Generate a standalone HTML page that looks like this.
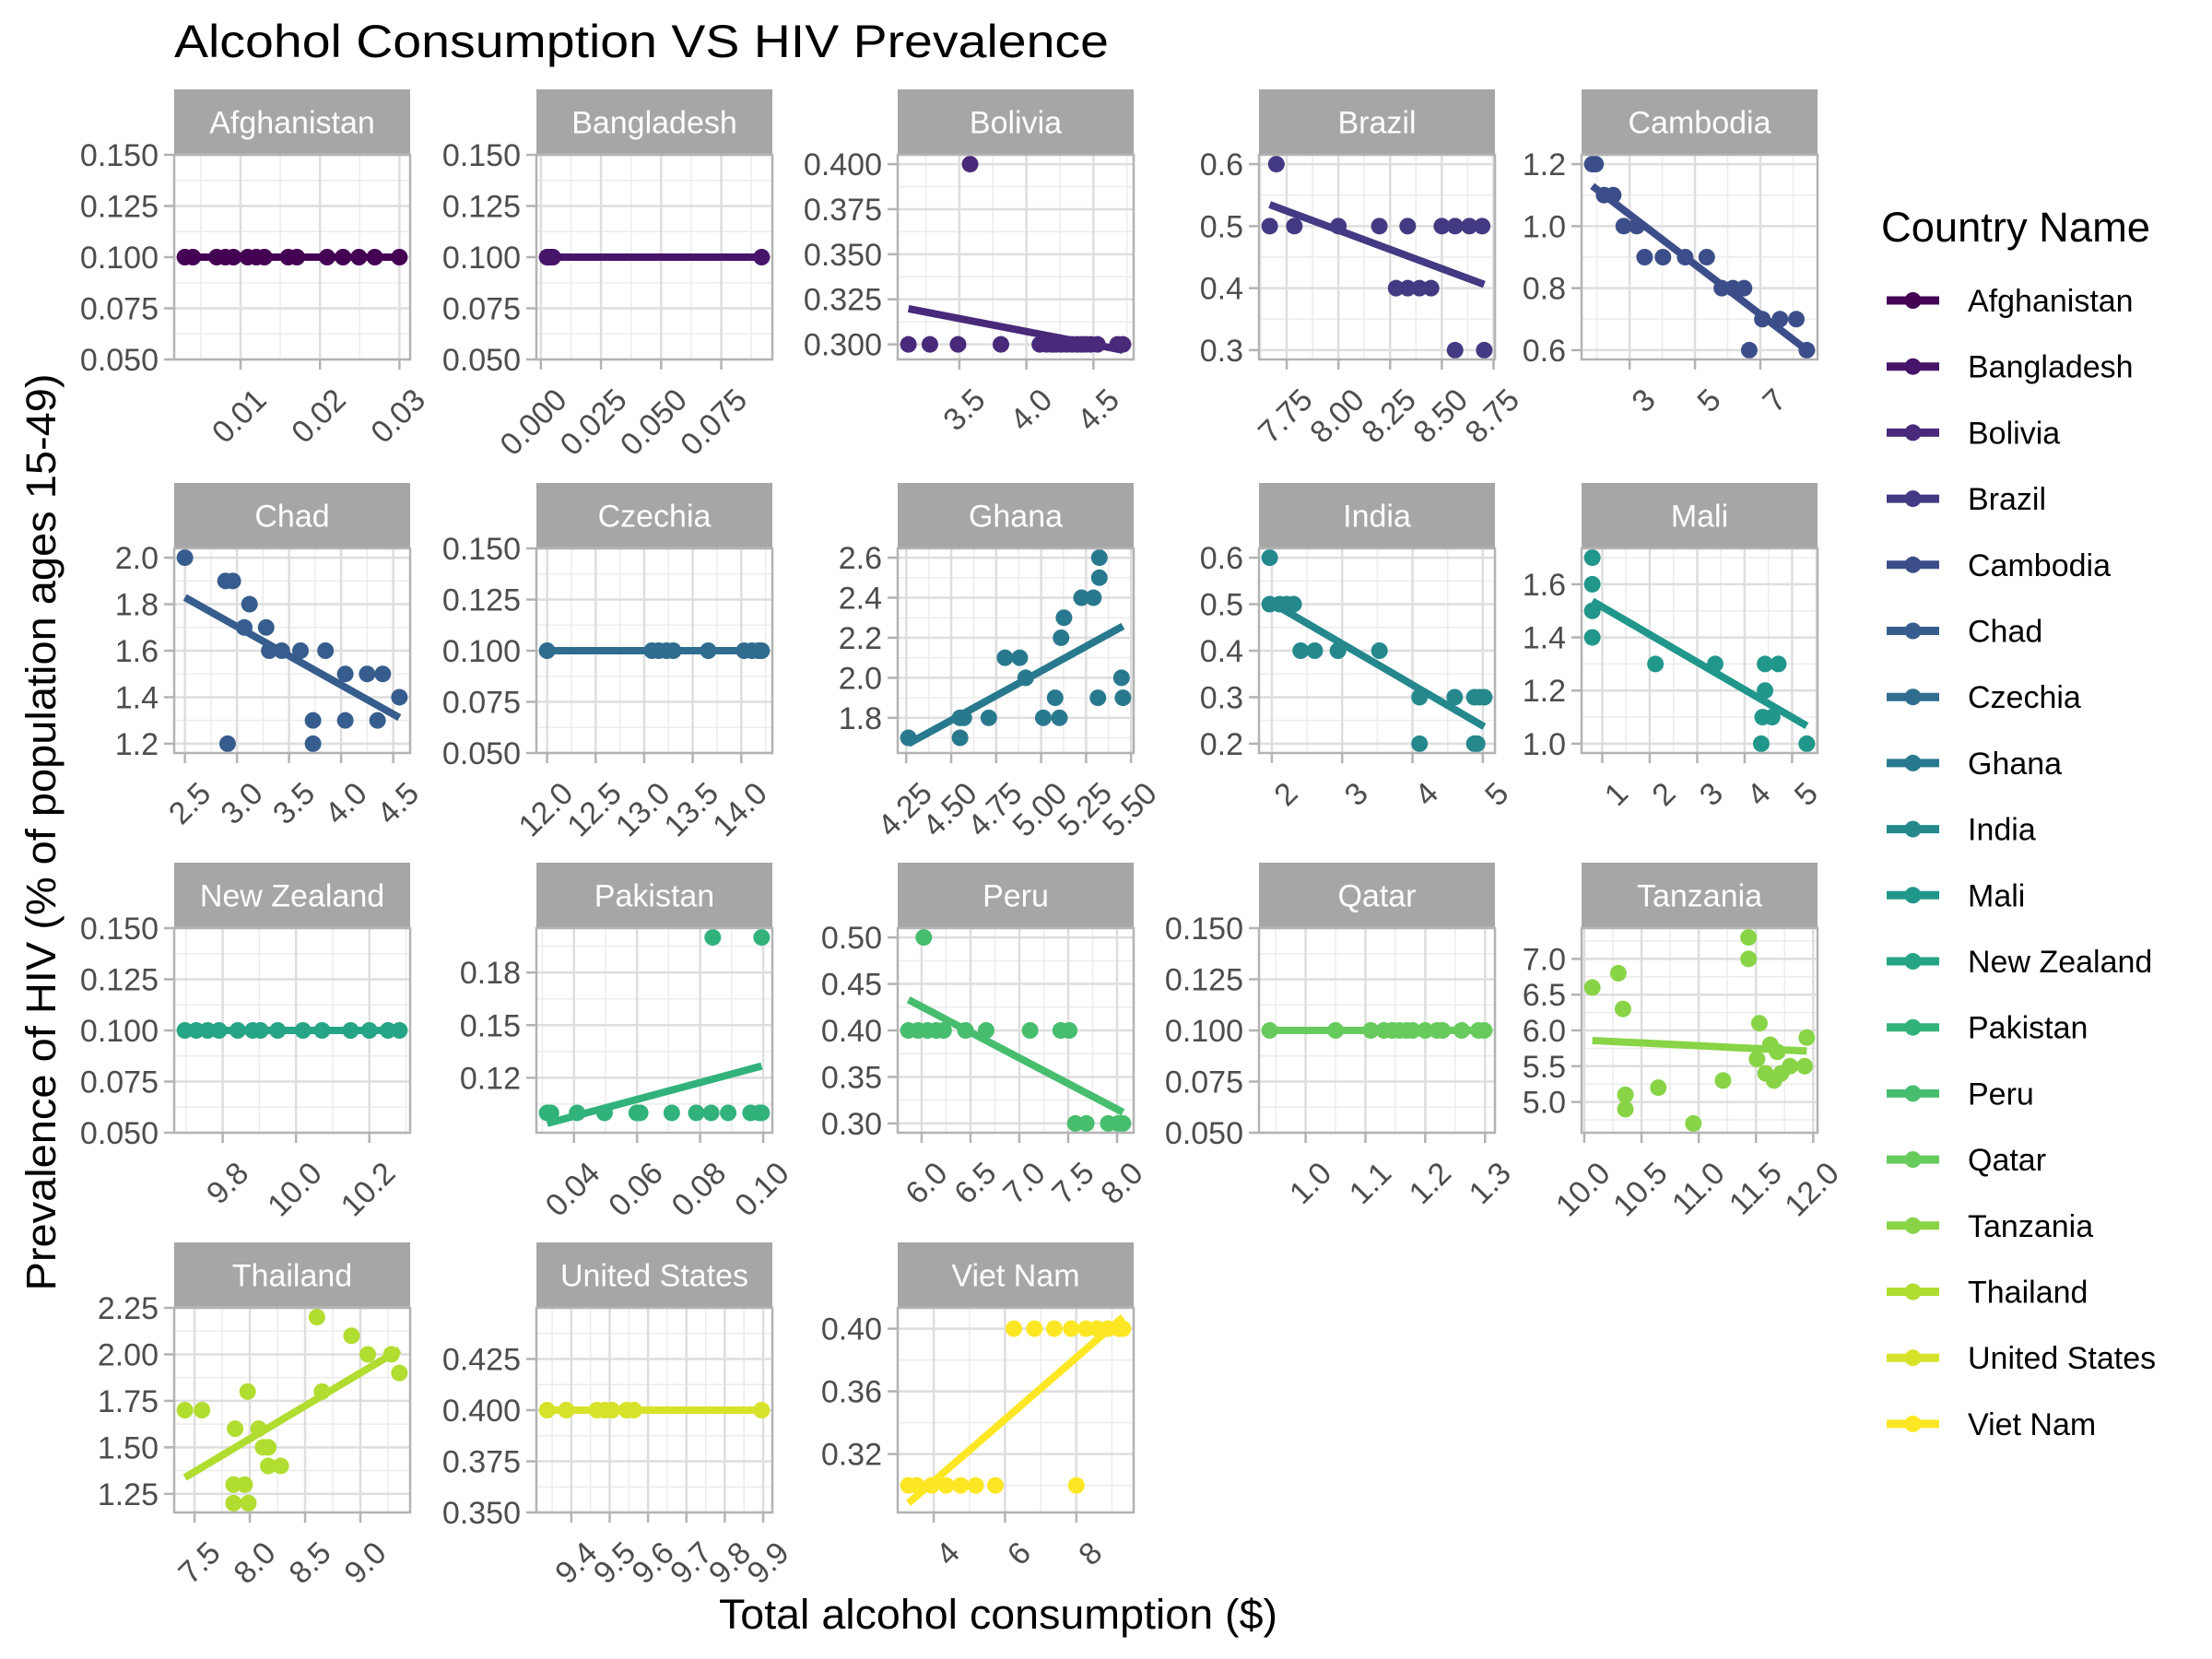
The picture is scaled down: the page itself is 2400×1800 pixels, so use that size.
<!DOCTYPE html>
<html><head><meta charset="utf-8"><title>Alcohol Consumption VS HIV Prevalence</title>
<style>html,body{margin:0;padding:0;background:#fff}svg{display:block}text{font-family:"Liberation Sans",Arial,sans-serif}</style>
</head><body>
<svg id="chart" width="2400" height="1800" viewBox="0 0 2400 1800" xmlns="http://www.w3.org/2000/svg">
<rect x="0" y="0" width="2400" height="1800" fill="#fff"/>
<text x="189" y="62" font-size="50" fill="#000" textLength="1014" lengthAdjust="spacingAndGlyphs">Alcohol Consumption VS HIV Prevalence</text>
<text transform="translate(60,903) rotate(-90)" text-anchor="middle" font-size="45" fill="#000" textLength="995" lengthAdjust="spacingAndGlyphs">Prevalence of HIV (% of population ages 15-49)</text>
<text x="1083" y="1767" text-anchor="middle" font-size="45" fill="#000" textLength="606" lengthAdjust="spacingAndGlyphs">Total alcohol consumption ($)</text>
<g id="panels"></g>
<g id="legend">
<text x="2041" y="262" font-size="45" fill="#000" textLength="292" lengthAdjust="spacingAndGlyphs">Country Name</text>
</g>
</svg>
<script>
// ---- data ----
const countries = ["Afghanistan","Bangladesh","Bolivia","Brazil","Cambodia","Chad","Czechia","Ghana","India","Mali","New Zealand","Pakistan","Peru","Qatar","Tanzania","Thailand","United States","Viet Nam"];
const colors = ["#440154","#46156A","#48297A","#423A82","#3C4E89","#365D8D","#2F6C8E","#29798E","#24888D","#20978A","#25A585","#31B27B","#47BD6E","#66CA5C","#88D446","#B0DD2F","#D7E22A","#FDE725"];

const afghanistanX = [0.0030,0.0040,0.0070,0.0081,0.0091,0.0109,0.0120,0.0130,0.0160,0.0171,0.0209,0.0229,0.0249,0.0269,0.0300];
const afghanistanY = [0.1,0.1,0.1,0.1,0.1,0.1,0.1,0.1,0.1,0.1,0.1,0.1,0.1,0.1,0.1];
const bangladeshX = [0.0026,0.003,0.0035,0.004,0.005,0.0918];
const bangladeshY = [0.1,0.1,0.1,0.1,0.1,0.1];
const boliviaX = [3.12,3.28,3.49,3.58,3.81,4.10,4.15,4.19,4.22,4.26,4.30,4.34,4.38,4.41,4.44,4.48,4.53,4.68,4.72];
const boliviaY = [0.3,0.3,0.3,0.4,0.3,0.3,0.3,0.3,0.3,0.3,0.3,0.3,0.3,0.3,0.3,0.3,0.3,0.3,0.3];
const brazilX = [7.668,7.70,7.787,8.0,8.198,8.279,8.335,8.335,8.392,8.448,8.5,8.564,8.564,8.633,8.695,8.705];
const brazilY = [0.5,0.6,0.5,0.5,0.5,0.4,0.4,0.5,0.4,0.4,0.5,0.5,0.3,0.5,0.5,0.3];
const cambodiaX = [1.86,1.96,2.22,2.50,2.82,3.22,3.46,4.02,4.70,5.36,5.82,6.16,6.50,6.66,7.06,7.60,8.10,8.42];
const cambodiaY = [1.2,1.2,1.1,1.1,1.0,1.0,0.9,0.9,0.9,0.9,0.8,0.8,0.8,0.6,0.7,0.7,0.7,0.6];
const chadX = [2.5,2.89,2.96,3.12,3.07,3.28,3.31,3.43,3.61,3.85,4.04,4.25,4.40,4.56,2.91,3.73,3.73,4.04,4.35];
const chadY = [2.0,1.9,1.9,1.8,1.7,1.7,1.6,1.6,1.6,1.6,1.5,1.5,1.5,1.4,1.2,1.3,1.2,1.3,1.3];
const czechiaX = [12.0,13.08,13.15,13.23,13.30,13.66,14.03,14.11,14.18,14.21];
const czechiaY = [0.1,0.1,0.1,0.1,0.1,0.1,0.1,0.1,0.1,0.1];
const ghanaX = [4.262,4.549,4.57,4.549,4.709,4.799,4.881,4.914,5.012,5.102,5.078,5.111,5.127,5.225,5.291,5.324,5.324,5.316,5.447,5.455];
const ghanaY = [1.7,1.8,1.8,1.7,1.8,2.1,2.1,2.0,1.8,1.8,1.9,2.2,2.3,2.4,2.4,2.5,2.6,1.9,2.0,1.9];
const indiaX = [1.97,1.97,2.11,2.21,2.31,2.41,2.61,2.94,3.53,4.10,4.60,4.88,4.95,5.02,4.10,4.88,4.92];
const indiaY = [0.6,0.5,0.5,0.5,0.5,0.4,0.4,0.4,0.4,0.3,0.3,0.3,0.3,0.3,0.2,0.2,0.2];
const maliX = [0.79,0.79,0.79,0.79,2.12,3.38,4.43,4.71,4.43,4.38,4.58,4.35,5.31];
const maliY = [1.7,1.6,1.5,1.4,1.3,1.3,1.3,1.3,1.2,1.1,1.1,1.0,1.0];
const newZealandX = [9.697,9.728,9.759,9.79,9.841,9.882,9.903,9.95,10.019,10.071,10.149,10.2,10.251,10.282];
const newZealandY = [0.1,0.1,0.1,0.1,0.1,0.1,0.1,0.1,0.1,0.1,0.1,0.1,0.1,0.1];
const pakistanX = [0.0315,0.0327,0.041,0.0497,0.0599,0.061,0.071,0.0788,0.0835,0.0889,0.096,0.0988,0.0995,0.084,0.0995];
const pakistanY = [0.1,0.1,0.1,0.1,0.1,0.1,0.1,0.1,0.1,0.1,0.1,0.1,0.1,0.2,0.2];
const peruX = [5.865,5.963,6.022,6.06,6.15,6.225,6.449,6.66,7.11,7.423,7.51,7.573,7.685,7.91,8.01,8.06];
const peruY = [0.4,0.4,0.5,0.4,0.4,0.4,0.4,0.4,0.4,0.4,0.4,0.3,0.3,0.3,0.3,0.3];
const qatarX = [0.940,1.050,1.109,1.131,1.145,1.157,1.169,1.179,1.2,1.220,1.229,1.261,1.289,1.2986];
const qatarY = [0.1,0.1,0.1,0.1,0.1,0.1,0.1,0.1,0.1,0.1,0.1,0.1,0.1,0.1];
const tanzaniaX = [10.07,10.297,10.338,10.359,10.359,10.647,10.953,11.212,11.435,11.435,11.53,11.509,11.625,11.687,11.584,11.658,11.72,11.798,11.926,11.944];
const tanzaniaY = [6.6,6.8,6.3,5.1,4.9,5.2,4.7,5.3,7.3,7.0,6.1,5.6,5.8,5.7,5.4,5.3,5.4,5.5,5.5,5.9];
const thailandX = [7.413,7.567,7.867,7.98,7.853,7.953,7.853,7.987,8.08,8.12,8.167,8.167,8.28,8.607,8.653,8.92,9.067,9.28,9.353];
const thailandY = [1.7,1.7,1.6,1.8,1.3,1.3,1.2,1.2,1.6,1.5,1.5,1.4,1.4,2.2,1.8,2.1,2.0,2.0,1.9];
const unitedStatesX = [9.337,9.387,9.467,9.487,9.506,9.544,9.563,9.896];
const unitedStatesY = [0.4,0.4,0.4,0.4,0.4,0.4,0.4,0.4];
const vietNamX = [3.29,3.526,3.94,4.35,4.76,5.175,5.73,8.0,6.247,6.825,7.38,7.856,8.27,8.58,8.89,9.2,9.307];
const vietNamY = [0.3,0.3,0.3,0.3,0.3,0.3,0.3,0.3,0.4,0.4,0.4,0.4,0.4,0.4,0.4,0.4,0.4];

const seriesX = [afghanistanX,bangladeshX,boliviaX,brazilX,cambodiaX,chadX,czechiaX,ghanaX,indiaX,maliX,newZealandX,pakistanX,peruX,qatarX,tanzaniaX,thailandX,unitedStatesX,vietNamX];
const seriesY = [afghanistanY,bangladeshY,boliviaY,brazilY,cambodiaY,chadY,czechiaY,ghanaY,indiaY,maliY,newZealandY,pakistanY,peruY,qatarY,tanzaniaY,thailandY,unitedStatesY,vietNamY];

const xTicks = [[0.01,0.02,0.03],[0,0.025,0.05,0.075],[3.5,4.0,4.5],[7.75,8,8.25,8.5,8.75],[3,5,7],
 [2.5,3,3.5,4,4.5],[12,12.5,13,13.5,14],[4.25,4.5,4.75,5,5.25,5.5],[2,3,4,5],[1,2,3,4,5],
 [9.8,10.0,10.2],[0.04,0.06,0.08,0.10],[6,6.5,7,7.5,8],[1.0,1.1,1.2,1.3],[10,10.5,11,11.5,12],
 [7.5,8,8.5,9],[9.4,9.5,9.6,9.7,9.8,9.9],[4,6,8]];
const xTickDecimals = [2,3,1,2,0,1,1,2,0,0,1,2,1,1,1,1,1,0];
const yTicks = [[0.05,0.075,0.1,0.125,0.15],[0.05,0.075,0.1,0.125,0.15],[0.3,0.325,0.35,0.375,0.4],[0.3,0.4,0.5,0.6],[0.6,0.8,1.0,1.2],
 [1.2,1.4,1.6,1.8,2.0],[0.05,0.075,0.1,0.125,0.15],[1.8,2.0,2.2,2.4,2.6],[0.2,0.3,0.4,0.5,0.6],[1.0,1.2,1.4,1.6],
 [0.05,0.075,0.1,0.125,0.15],[0.12,0.15,0.18],[0.3,0.35,0.4,0.45,0.5],[0.05,0.075,0.1,0.125,0.15],[5,5.5,6,6.5,7],
 [1.25,1.5,1.75,2.0,2.25],[0.35,0.375,0.4,0.425],[0.32,0.36,0.40]];
const yTickDecimals = [3,3,3,1,1,1,3,1,1,1,3,2,2,3,1,2,3,2];

// ---- layout ----
const colLeft = [189,582,974,1366,1716];
const panelTop = [168,595,1007,1419];
const PW = 256, PH = 222, STRIP = 71;
const NS = "http://www.w3.org/2000/svg";
const panelsG = document.getElementById('panels');
const legendG = document.getElementById('legend');

function mk(tag, attrs, parent){
  const e = document.createElementNS(NS, tag);
  for (const k in attrs) e.setAttribute(k, attrs[k]);
  parent.appendChild(e);
  return e;
}
function slug(s){ return s.toLowerCase().replace(/\s+/g,'-'); }
function fit(xs, ys){
  const n = xs.length; let mx=0,my=0;
  for(let i=0;i<n;i++){mx+=xs[i];my+=ys[i];}
  mx/=n;my/=n; let sxy=0,sxx=0;
  for(let i=0;i<n;i++){sxy+=(xs[i]-mx)*(ys[i]-my);sxx+=(xs[i]-mx)*(xs[i]-mx);}
  const b = sxx===0?0:sxy/sxx; return [my-b*mx, b];
}
function minors(t){
  const out=[]; const st=t.length>1?t[1]-t[0]:1;
  out.push(t[0]-st/2);
  for(let i=0;i<t.length-1;i++) out.push((t[i]+t[i+1])/2);
  out.push(t[t.length-1]+st/2);
  return out;
}

countries.forEach((name, i) => {
  const xs = seriesX[i], ys = seriesY[i];
  const col = i % 5, row = Math.floor(i / 5);
  const L = colLeft[col], T = panelTop[row], R = L + PW, B = T + PH;
  const [a, b] = fit(xs, ys);
  const xmin = Math.min(...xs), xmax = Math.max(...xs);
  const l0 = a + b*xmin, l1 = a + b*xmax;
  const xr = xmax - xmin;
  const xlo = xmin - 0.05*xr, xhi = xmax + 0.05*xr;
  let ymin = Math.min(...ys, l0, l1), ymax = Math.max(...ys, l0, l1);
  let ylo, yhi;
  if (ymax - ymin < 1e-9) { ylo = ymin - 0.05; yhi = ymax + 0.05; }
  else { const yr = ymax - ymin; ylo = ymin - 0.05*yr; yhi = ymax + 0.05*yr; }
  const sx = v => L + (v - xlo) / (xhi - xlo) * PW;
  const sy = v => B - (v - ylo) / (yhi - ylo) * PH;

  const g = mk('g', {}, panelsG);
  
  

  const strip = mk('rect', {x:L, y:T-STRIP, width:PW, height:STRIP, fill:'#a6a6a6'}, g);
  
  
  const st = mk('text', {x:L+PW/2, y:T-STRIP/2+12, 'text-anchor':'middle', 'font-size':34, fill:'#fff'}, g);
  st.textContent = name;
  
  

  const grid = mk('g', {}, g);
  
  
  minors(xTicks[i]).forEach(v => { const x = sx(v); if (x > L && x < R) mk('line', {x1:x, x2:x, y1:T, y2:B, stroke:'#ececec', 'stroke-width':1.5}, grid); });
  minors(yTicks[i]).forEach(v => { const y = sy(v); if (y > T && y < B) mk('line', {x1:L, x2:R, y1:y, y2:y, stroke:'#ececec', 'stroke-width':1.5}, grid); });
  xTicks[i].forEach(v => { const x = sx(v); mk('line', {x1:x, x2:x, y1:T, y2:B, stroke:'#dedede', 'stroke-width':2.5}, grid); });
  yTicks[i].forEach(v => { const y = sy(v); mk('line', {x1:L, x2:R, y1:y, y2:y, stroke:'#dedede', 'stroke-width':2.5}, grid); });

  const xa = mk('g', {}, g);
  
  
  xTicks[i].forEach(v => {
    const x = sx(v);
    mk('line', {x1:x, x2:x, y1:B, y2:B+11, stroke:'#b3b3b3', 'stroke-width':2.5}, xa);
    const t = mk('text', {'text-anchor':'end', 'dominant-baseline':'hanging', 'font-size':34, fill:'#4d4d4d', transform:'translate(' + (x+13) + ',' + (B+29) + ') rotate(-45)'}, xa);
    t.textContent = v.toFixed(xTickDecimals[i]);
    
    
  });
  const ya = mk('g', {}, g);
  
  
  yTicks[i].forEach(v => {
    const y = sy(v);
    mk('line', {x1:L-11, x2:L, y1:y, y2:y, stroke:'#b3b3b3', 'stroke-width':2.5}, ya);
    const t = mk('text', {x:L-17, y:y+12, 'text-anchor':'end', 'font-size':34, fill:'#4d4d4d'}, ya);
    t.textContent = v.toFixed(yTickDecimals[i]);
    
    
  });

  const fl = mk('line', {x1:sx(xmin), y1:sy(l0), x2:sx(xmax), y2:sy(l1), stroke:colors[i], 'stroke-width':8}, g);
  
  

  const pts = mk('g', {fill:colors[i]}, g);
  
  
  xs.forEach((v, k) => {
    const c = mk('circle', {cx:sx(v), cy:sy(ys[k]), r:9}, pts);
    
    
  });

  const border = mk('rect', {x:L, y:T, width:PW, height:PH, fill:'none', stroke:'#b3b3b3', 'stroke-width':2.5}, g);
  
  

  // legend entry
  const ly = 326 + i * 71.7;
  const le = mk('g', {}, legendG);
  
  
  mk('line', {x1:2047, x2:2104, y1:ly, y2:ly, stroke:colors[i], 'stroke-width':9}, le);
  mk('circle', {cx:2075.5, cy:ly, r:9, fill:colors[i]}, le);
  const lt = mk('text', {x:2135, y:ly+12, 'font-size':34, fill:'#000'}, le);
  lt.textContent = name;
  
  
});
</script>
</body></html>
